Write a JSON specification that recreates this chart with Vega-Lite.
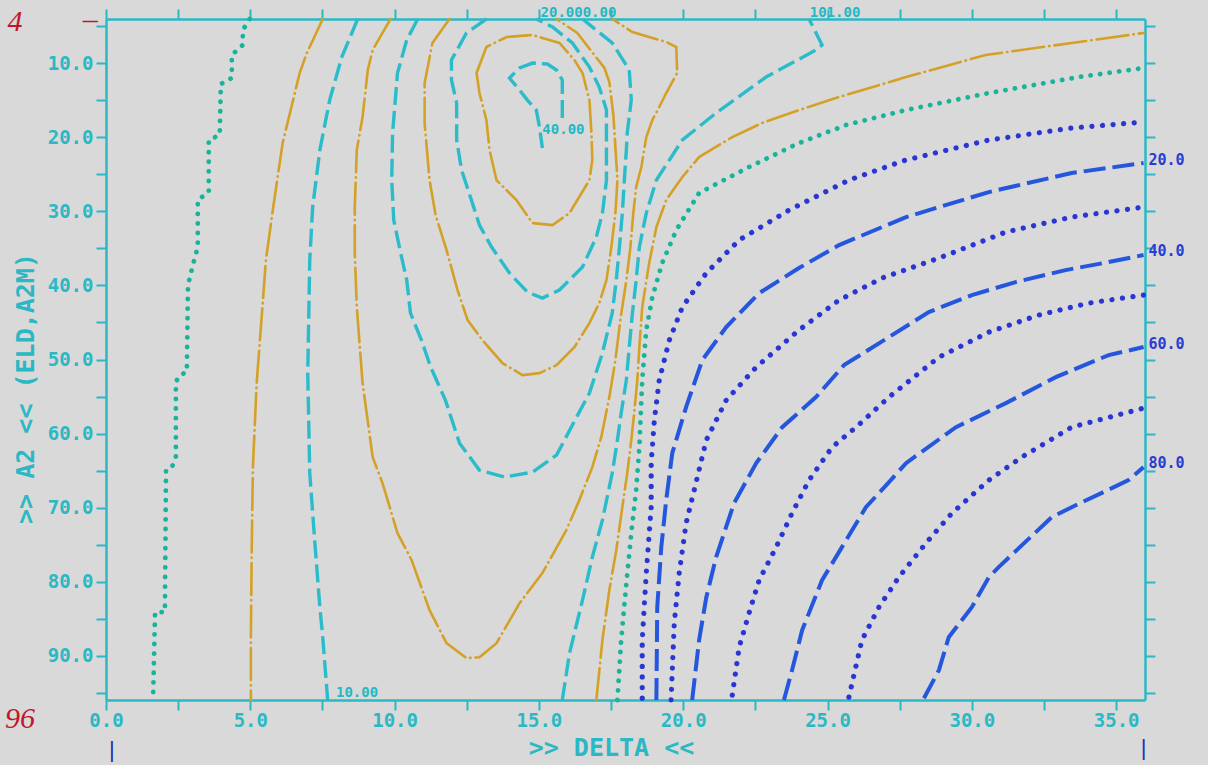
{
"$schema":"https://vega.github.io/schema/vega-lite/v6.json",
"width":1039,"height":681,
"autosize":{"type":"none"},
"padding":{"left":106,"top":19,"right":63,"bottom":65},
"background":"#d9d9d9",
"config":{"view":{"stroke":null},"axis":{"grid":false,"domainColor":"#2ab8c4","domainWidth":2.5,"tickColor":"#2ab8c4","tickWidth":2,"tickSize":10,"labelColor":"#2ab8c4","labelFont":"DejaVu Sans Mono","labelFontWeight":"bold","labelFontSize":19,"labelFlush":false,"labelOverlap":false,"titleColor":"#2ab8c4","titleFont":"DejaVu Sans Mono","titleFontWeight":"bold","titleFontSize":25}},
"datasets":{
"lines":[
{"c":"L1","x":4.98,"y":4.0},{"c":"L1","x":4.74,"y":5.49},{"c":"L1","x":4.74,"y":7.51},{"c":"L1","x":4.36,"y":8.86},{"c":"L1","x":4.36,"y":11.97},{"c":"L1","x":3.98,"y":12.78},{"c":"L1","x":3.94,"y":19.68},{"c":"L1","x":3.56,"y":20.35},{"c":"L1","x":3.56,"y":27.38},{"c":"L1","x":3.18,"y":28.46},{"c":"L1","x":3.18,"y":34.81},{"c":"L1","x":3.01,"y":37.24},{"c":"L1","x":2.84,"y":39.95},{"c":"L1","x":2.8,"y":51.7},{"c":"L1","x":2.56,"y":52.11},{"c":"L1","x":2.42,"y":53.05},{"c":"L1","x":2.42,"y":63.32},{"c":"L1","x":2.28,"y":64.54},{"c":"L1","x":2.08,"y":64.95},{"c":"L1","x":2.04,"y":84.14},{"c":"L1","x":1.7,"y":84.14},{"c":"L1","x":1.63,"y":96.0},
{"c":"G1","x":7.51,"y":4.0},{"c":"G1","x":6.96,"y":8.59},{"c":"G1","x":6.71,"y":11.3},{"c":"G1","x":6.12,"y":20.76},{"c":"G1","x":5.78,"y":29.81},{"c":"G1","x":5.54,"y":36.57},{"c":"G1","x":5.43,"y":42.38},{"c":"G1","x":5.22,"y":53.19},{"c":"G1","x":5.09,"y":64.54},{"c":"G1","x":5.05,"y":75.35},{"c":"G1","x":5.02,"y":87.51},{"c":"G1","x":5.02,"y":96.0},
{"c":"C1","x":8.72,"y":4.0},{"c":"C1","x":8.17,"y":9.14},{"c":"C1","x":7.75,"y":14.95},{"c":"C1","x":7.41,"y":21.7},{"c":"C1","x":7.16,"y":29.41},{"c":"C1","x":7.06,"y":36.57},{"c":"C1","x":6.99,"y":51.84},{"c":"C1","x":7.06,"y":65.35},{"c":"C1","x":7.23,"y":74.41},{"c":"C1","x":7.41,"y":83.46},{"c":"C1","x":7.51,"y":87.51},{"c":"C1","x":7.68,"y":96.0},
{"c":"G2","x":9.86,"y":4.0},{"c":"G2","x":9.24,"y":8.19},{"c":"G2","x":9.07,"y":10.89},{"c":"G2","x":8.89,"y":17.24},{"c":"G2","x":8.69,"y":21.7},{"c":"G2","x":8.62,"y":29.41},{"c":"G2","x":8.62,"y":35.62},{"c":"G2","x":8.69,"y":42.92},{"c":"G2","x":8.89,"y":53.19},{"c":"G2","x":9.24,"y":63.19},{"c":"G2","x":9.58,"y":66.7},{"c":"G2","x":10.1,"y":73.46},{"c":"G2","x":10.59,"y":77.11},{"c":"G2","x":11.21,"y":83.86},{"c":"G2","x":11.8,"y":88.32},{"c":"G2","x":12.49,"y":90.35},{"c":"G2","x":12.94,"y":90.22},{"c":"G2","x":13.53,"y":88.32},{"c":"G2","x":14.33,"y":82.92},{"c":"G2","x":15.12,"y":78.86},{"c":"G2","x":15.95,"y":73.05},{"c":"G2","x":16.4,"y":69.0},{"c":"G2","x":16.85,"y":64.54},{"c":"G2","x":17.16,"y":60.49},{"c":"G2","x":17.44,"y":55.08},{"c":"G2","x":17.65,"y":50.08},{"c":"G2","x":17.82,"y":44.68},{"c":"G2","x":18.03,"y":39.27},{"c":"G2","x":18.17,"y":34.81},{"c":"G2","x":18.27,"y":30.22},{"c":"G2","x":18.37,"y":26.7},{"c":"G2","x":18.55,"y":24.0},{"c":"G2","x":18.72,"y":19.95},{"c":"G2","x":18.93,"y":17.65},{"c":"G2","x":19.17,"y":15.89},{"c":"G2","x":19.41,"y":14.0},{"c":"G2","x":19.79,"y":11.3},{"c":"G2","x":19.76,"y":7.78},{"c":"G2","x":19.41,"y":7.11},{"c":"G2","x":18.24,"y":5.76},{"c":"G2","x":17.54,"y":4.0},
{"c":"C2","x":10.8,"y":4.0},{"c":"C2","x":10.42,"y":6.84},{"c":"C2","x":10.1,"y":11.3},{"c":"C2","x":9.93,"y":19.41},{"c":"C2","x":9.9,"y":25.76},{"c":"C2","x":9.97,"y":31.16},{"c":"C2","x":10.21,"y":35.62},{"c":"C2","x":10.42,"y":39.27},{"c":"C2","x":10.55,"y":43.73},{"c":"C2","x":10.93,"y":47.38},{"c":"C2","x":11.25,"y":51.03},{"c":"C2","x":11.76,"y":55.49},{"c":"C2","x":12.25,"y":61.3},{"c":"C2","x":12.94,"y":64.95},{"c":"C2","x":13.81,"y":65.89},{"c":"C2","x":14.78,"y":65.22},{"c":"C2","x":15.61,"y":62.92},{"c":"C2","x":16.16,"y":58.86},{"c":"C2","x":16.75,"y":54.54},{"c":"C2","x":17.2,"y":49.14},{"c":"C2","x":17.54,"y":43.73},{"c":"C2","x":17.68,"y":39.27},{"c":"C2","x":17.79,"y":34.81},{"c":"C2","x":17.89,"y":30.22},{"c":"C2","x":17.96,"y":25.76},{"c":"C2","x":18.03,"y":21.7},{"c":"C2","x":18.06,"y":19.41},{"c":"C2","x":18.2,"y":14.95},{"c":"C2","x":18.13,"y":10.89},{"c":"C2","x":17.54,"y":7.24},{"c":"C2","x":16.51,"y":4.0},
{"c":"G3","x":11.9,"y":4.0},{"c":"G3","x":11.31,"y":7.24},{"c":"G3","x":11.04,"y":12.65},{"c":"G3","x":11.04,"y":18.05},{"c":"G3","x":11.21,"y":25.76},{"c":"G3","x":11.42,"y":30.49},{"c":"G3","x":11.8,"y":35.22},{"c":"G3","x":12.18,"y":40.62},{"c":"G3","x":12.53,"y":44.68},{"c":"G3","x":13.04,"y":47.38},{"c":"G3","x":13.74,"y":50.49},{"c":"G3","x":14.43,"y":52.11},{"c":"G3","x":15.02,"y":51.84},{"c":"G3","x":15.61,"y":50.76},{"c":"G3","x":16.23,"y":48.32},{"c":"G3","x":16.75,"y":45.08},{"c":"G3","x":17.09,"y":42.38},{"c":"G3","x":17.34,"y":39.27},{"c":"G3","x":17.51,"y":34.81},{"c":"G3","x":17.65,"y":30.22},{"c":"G3","x":17.72,"y":25.76},{"c":"G3","x":17.65,"y":21.3},{"c":"G3","x":17.58,"y":16.97},{"c":"G3","x":17.44,"y":12.51},{"c":"G3","x":17.27,"y":10.62},{"c":"G3","x":16.33,"y":5.89},{"c":"G3","x":15.61,"y":4.0},
{"c":"C3","x":13.18,"y":4.0},{"c":"C3","x":12.49,"y":5.89},{"c":"C3","x":11.97,"y":9.54},{"c":"C3","x":11.97,"y":12.24},{"c":"C3","x":12.15,"y":15.35},{"c":"C3","x":12.15,"y":20.35},{"c":"C3","x":12.32,"y":24.41},{"c":"C3","x":12.66,"y":28.46},{"c":"C3","x":12.94,"y":31.84},{"c":"C3","x":13.36,"y":34.81},{"c":"C3","x":13.98,"y":38.32},{"c":"C3","x":14.6,"y":40.89},{"c":"C3","x":15.12,"y":41.7},{"c":"C3","x":15.71,"y":40.62},{"c":"C3","x":16.51,"y":37.51},{"c":"C3","x":16.99,"y":33.46},{"c":"C3","x":17.2,"y":30.22},{"c":"C3","x":17.34,"y":25.76},{"c":"C3","x":17.34,"y":20.35},{"c":"C3","x":17.34,"y":16.3},{"c":"C3","x":17.09,"y":13.19},{"c":"C3","x":16.75,"y":10.49},{"c":"C3","x":16.16,"y":7.24},{"c":"C3","x":15.47,"y":5.08},{"c":"C3","x":14.91,"y":4.0},
{"c":"G4","x":12.84,"y":11.3},{"c":"G4","x":13.18,"y":7.78},{"c":"G4","x":13.88,"y":6.43},{"c":"G4","x":14.78,"y":6.16},{"c":"G4","x":15.71,"y":7.24},{"c":"G4","x":16.23,"y":9.54},{"c":"G4","x":16.51,"y":11.3},{"c":"G4","x":16.75,"y":14.95},{"c":"G4","x":16.82,"y":19.41},{"c":"G4","x":16.85,"y":23.05},{"c":"G4","x":16.75,"y":25.76},{"c":"G4","x":16.06,"y":30.22},{"c":"G4","x":15.47,"y":31.84},{"c":"G4","x":14.78,"y":31.57},{"c":"G4","x":14.22,"y":28.46},{"c":"G4","x":13.53,"y":25.76},{"c":"G4","x":13.29,"y":21.7},{"c":"G4","x":13.18,"y":17.65},{"c":"G4","x":12.94,"y":14.0},{"c":"G4","x":12.84,"y":11.3},
{"c":"C4","x":15.81,"y":17.38},{"c":"C4","x":15.81,"y":14.95},{"c":"C4","x":15.81,"y":12.24},{"c":"C4","x":15.61,"y":10.89},{"c":"C4","x":15.29,"y":10.08},{"c":"C4","x":14.78,"y":9.95},{"c":"C4","x":14.33,"y":10.62},{"c":"C4","x":13.98,"y":11.97},{"c":"C4","x":14.33,"y":13.59},{"c":"C4","x":14.6,"y":14.95},{"c":"C4","x":14.91,"y":16.3},{"c":"C4","x":15.02,"y":18.59},{"c":"C4","x":15.12,"y":21.43},
{"c":"C5","x":15.81,"y":96.0},{"c":"C5","x":16.06,"y":89.68},{"c":"C5","x":16.51,"y":82.51},{"c":"C5","x":16.85,"y":76.7},{"c":"C5","x":17.2,"y":71.7},{"c":"C5","x":17.54,"y":65.35},{"c":"C5","x":17.72,"y":60.89},{"c":"C5","x":17.85,"y":57.24},{"c":"C5","x":18.03,"y":52.78},{"c":"C5","x":18.13,"y":48.32},{"c":"C5","x":18.24,"y":43.73},{"c":"C5","x":18.37,"y":39.27},{"c":"C5","x":18.48,"y":34.81},{"c":"C5","x":18.72,"y":30.22},{"c":"C5","x":19.07,"y":25.76},{"c":"C5","x":19.97,"y":20.35},{"c":"C5","x":21.14,"y":16.7},{"c":"C5","x":22.87,"y":11.84},{"c":"C5","x":24.6,"y":8.19},{"c":"C5","x":24.81,"y":7.51},{"c":"C5","x":24.36,"y":4.0},
{"c":"G5","x":16.99,"y":96.0},{"c":"G5","x":17.2,"y":87.92},{"c":"G5","x":17.44,"y":81.16},{"c":"G5","x":17.68,"y":75.76},{"c":"G5","x":17.89,"y":69.95},{"c":"G5","x":18.06,"y":65.35},{"c":"G5","x":18.2,"y":60.89},{"c":"G5","x":18.3,"y":57.24},{"c":"G5","x":18.41,"y":52.78},{"c":"G5","x":18.48,"y":48.32},{"c":"G5","x":18.58,"y":42.92},{"c":"G5","x":18.82,"y":36.97},{"c":"G5","x":19.07,"y":32.11},{"c":"G5","x":19.41,"y":28.46},{"c":"G5","x":19.97,"y":25.35},{"c":"G5","x":20.55,"y":22.65},{"c":"G5","x":21.7,"y":19.95},{"c":"G5","x":22.73,"y":18.05},{"c":"G5","x":24.01,"y":16.3},{"c":"G5","x":25.4,"y":14.54},{"c":"G5","x":27.72,"y":11.84},{"c":"G5","x":30.48,"y":8.86},{"c":"G5","x":33.46,"y":7.24},{"c":"G5","x":35.95,"y":5.89},
{"c":"T2","x":17.72,"y":96.0},{"c":"T2","x":17.85,"y":87.92},{"c":"T2","x":18.03,"y":80.22},{"c":"T2","x":18.2,"y":73.46},{"c":"T2","x":18.37,"y":67.65},{"c":"T2","x":18.48,"y":61.84},{"c":"T2","x":18.58,"y":52.78},{"c":"T2","x":18.72,"y":46.03},{"c":"T2","x":18.93,"y":41.57},{"c":"T2","x":19.27,"y":36.97},{"c":"T2","x":19.76,"y":32.51},{"c":"T2","x":20.55,"y":27.51},{"c":"T2","x":22.28,"y":24.0},{"c":"T2","x":24.01,"y":20.76},{"c":"T2","x":25.64,"y":18.32},{"c":"T2","x":27.72,"y":16.3},{"c":"T2","x":30.59,"y":14.0},{"c":"T2","x":33.7,"y":11.84},{"c":"T2","x":35.95,"y":10.62},
{"c":"B1","x":18.58,"y":95.76},{"c":"B1","x":18.58,"y":87.92},{"c":"B1","x":18.72,"y":78.86},{"c":"B1","x":18.89,"y":69.95},{"c":"B1","x":18.89,"y":64.0},{"c":"B1","x":19.0,"y":58.19},{"c":"B1","x":19.17,"y":52.78},{"c":"B1","x":19.52,"y":47.38},{"c":"B1","x":19.97,"y":42.92},{"c":"B1","x":20.8,"y":38.32},{"c":"B1","x":21.94,"y":33.86},{"c":"B1","x":23.67,"y":29.81},{"c":"B1","x":25.74,"y":25.76},{"c":"B1","x":27.72,"y":23.05},{"c":"B1","x":30.59,"y":20.35},{"c":"B1","x":33.46,"y":18.73},{"c":"B1","x":35.95,"y":17.92},
{"c":"D1","x":19.07,"y":96.0},{"c":"D1","x":19.1,"y":83.46},{"c":"D1","x":19.24,"y":75.35},{"c":"D1","x":19.41,"y":69.0},{"c":"D1","x":19.62,"y":62.65},{"c":"D1","x":20.1,"y":56.43},{"c":"D1","x":20.66,"y":50.08},{"c":"D1","x":21.49,"y":45.62},{"c":"D1","x":22.63,"y":41.03},{"c":"D1","x":24.01,"y":37.65},{"c":"D1","x":25.4,"y":34.54},{"c":"D1","x":27.72,"y":30.76},{"c":"D1","x":30.59,"y":27.38},{"c":"D1","x":33.46,"y":24.81},{"c":"D1","x":35.95,"y":23.46},
{"c":"B2","x":19.58,"y":96.0},{"c":"B2","x":19.69,"y":85.62},{"c":"B2","x":19.86,"y":78.86},{"c":"B2","x":20.1,"y":72.11},{"c":"B2","x":20.38,"y":67.65},{"c":"B2","x":20.8,"y":60.89},{"c":"B2","x":21.49,"y":55.49},{"c":"B2","x":22.53,"y":51.03},{"c":"B2","x":24.01,"y":46.03},{"c":"B2","x":25.4,"y":41.97},{"c":"B2","x":26.89,"y":39.0},{"c":"B2","x":28.86,"y":36.3},{"c":"B2","x":31.18,"y":32.78},{"c":"B2","x":33.46,"y":30.76},{"c":"B2","x":35.95,"y":29.41},
{"c":"D2","x":20.31,"y":96.0},{"c":"D2","x":20.55,"y":87.92},{"c":"D2","x":20.8,"y":82.11},{"c":"D2","x":21.14,"y":76.7},{"c":"D2","x":21.76,"y":69.41},{"c":"D2","x":22.53,"y":64.0},{"c":"D2","x":23.43,"y":59.14},{"c":"D2","x":24.6,"y":55.08},{"c":"D2","x":25.57,"y":50.76},{"c":"D2","x":27.13,"y":46.97},{"c":"D2","x":28.51,"y":43.59},{"c":"D2","x":30.0,"y":41.3},{"c":"D2","x":31.52,"y":39.54},{"c":"D2","x":33.25,"y":37.92},{"c":"D2","x":34.74,"y":36.84},{"c":"D2","x":35.95,"y":35.89},
{"c":"B3","x":21.7,"y":95.35},{"c":"B3","x":21.94,"y":88.86},{"c":"B3","x":22.28,"y":84.27},{"c":"B3","x":22.63,"y":79.81},{"c":"B3","x":23.22,"y":75.35},{"c":"B3","x":23.77,"y":70.76},{"c":"B3","x":24.36,"y":66.3},{"c":"B3","x":25.16,"y":61.84},{"c":"B3","x":25.99,"y":59.14},{"c":"B3","x":27.13,"y":55.08},{"c":"B3","x":28.86,"y":49.68},{"c":"B3","x":30.59,"y":46.3},{"c":"B3","x":32.32,"y":44.0},{"c":"B3","x":34.05,"y":42.38},{"c":"B3","x":35.95,"y":41.3},
{"c":"D3","x":23.49,"y":96.0},{"c":"D3","x":23.77,"y":91.97},{"c":"D3","x":24.12,"y":86.57},{"c":"D3","x":24.81,"y":79.81},{"c":"D3","x":25.5,"y":75.35},{"c":"D3","x":26.33,"y":69.95},{"c":"D3","x":27.13,"y":66.57},{"c":"D3","x":27.72,"y":64.0},{"c":"D3","x":29.45,"y":59.14},{"c":"D3","x":31.18,"y":55.89},{"c":"D3","x":32.91,"y":52.38},{"c":"D3","x":34.74,"y":49.41},{"c":"D3","x":35.95,"y":48.32},
{"c":"B4","x":25.74,"y":95.62},{"c":"B4","x":26.19,"y":87.92},{"c":"B4","x":26.78,"y":83.46},{"c":"B4","x":27.47,"y":79.41},{"c":"B4","x":28.41,"y":74.81},{"c":"B4","x":29.31,"y":70.76},{"c":"B4","x":30.59,"y":66.3},{"c":"B4","x":31.73,"y":63.19},{"c":"B4","x":33.46,"y":59.14},{"c":"B4","x":35.95,"y":56.57},
{"c":"D4","x":28.34,"y":95.76},{"c":"D4","x":28.86,"y":91.97},{"c":"D4","x":29.2,"y":87.51},{"c":"D4","x":30.0,"y":83.46},{"c":"D4","x":30.59,"y":79.41},{"c":"D4","x":30.93,"y":78.05},{"c":"D4","x":32.77,"y":71.3},{"c":"D4","x":33.46,"y":69.95},{"c":"D4","x":35.43,"y":66.3},{"c":"D4","x":35.95,"y":64.54}
],
"labels":[
{"k":"cyan","t":"10.00","x":8.7,"y":95.0},
{"k":"cyan","t":"40.00","x":15.85,"y":19.0},
{"k":"cyan","t":"20.000.00","x":16.37,"y":3.2},
{"k":"cyan","t":"101.00","x":25.26,"y":3.2},
{"k":"blue","t":"20.0","x":36.12,"y":23.05},
{"k":"blue","t":"40.0","x":36.12,"y":35.35},
{"k":"blue","t":"60.0","x":36.12,"y":47.92},
{"k":"blue","t":"80.0","x":36.12,"y":64.0},
{"k":"red","t":"4","x":-3.15,"y":4.4},
{"k":"red","t":"–","x":-0.55,"y":4.1},
{"k":"red","t":"96","x":-2.98,"y":98.5},
{"k":"pen","t":"|","x":0.2,"y":102.8},
{"k":"pen","t":"|","x":35.95,"y":102.5}
]
},
"resolve":{"axis":{"x":"independent","y":"independent"}},
"layer":[
{"data":{"name":"lines"},"transform":[{"filter":{"field":"c","oneOf":["L1","T2"]}}],
 "mark":{"type":"line","color":"#17b39b","strokeWidth":4.8,"strokeCap":"round","strokeDash":[0.1,9.5]},
 "encoding":{
  "x":{"field":"x","type":"quantitative","scale":{"domain":[0,36],"nice":false,"zero":false},
   "axis":{"orient":"bottom","values":[0,2.5,5,7.5,10,12.5,15,17.5,20,22.5,25,27.5,30,32.5,35],"labelExpr":"datum.value % 5 == 0 ? format(datum.value, '.1f') : ''","labelPadding":1,"title":">> DELTA <<","titleX":505,"titleY":47,"titleBaseline":"middle","titleAlign":"center"}},
  "y":{"field":"y","type":"quantitative","scale":{"domain":[4,96],"reverse":true,"nice":false,"zero":false},
   "axis":{"orient":"left","values":[5,10,15,20,25,30,35,40,45,50,55,60,65,70,75,80,85,90,95],"labelExpr":"datum.value % 10 == 0 ? format(datum.value, '.1f') : ''","labelPadding":3,"title":">> A2 << (ELD,A2M)","titleX":-81,"titleY":369,"titleAngle":270,"titleAlign":"center","titleBaseline":"middle"}},
  "detail":{"field":"c"},"order":{"value":null}}},
{"data":{"name":"lines"},"transform":[{"filter":{"field":"c","oneOf":["G1","G2","G3","G4","G5"]}}],
 "mark":{"type":"line","color":"#d4a126","strokeWidth":2.6,"strokeCap":"round","strokeDash":[32,5,0.5,5]},
 "encoding":{
  "x":{"field":"x","type":"quantitative","scale":{"domain":[0,36],"nice":false,"zero":false},
   "axis":{"orient":"top","values":[0,2.5,5,7.5,10,12.5,15,17.5,20,22.5,25,27.5,30,32.5,35],"labels":false,"title":null}},
  "y":{"field":"y","type":"quantitative","scale":{"domain":[4,96],"reverse":true,"nice":false,"zero":false},
   "axis":{"orient":"right","values":[5,10,15,20,25,30,35,40,45,50,55,60,65,70,75,80,85,90,95],"labels":false,"title":null}},
  "detail":{"field":"c"},"order":{"value":null}}},
{"data":{"name":"lines"},"transform":[{"filter":{"field":"c","oneOf":["C1","C2","C3","C4","C5"]}}],
 "mark":{"type":"line","color":"#2bbccb","strokeWidth":3.4,"strokeCap":"butt","strokeDash":[18,6]},
 "encoding":{
  "x":{"field":"x","type":"quantitative","scale":{"domain":[0,36],"nice":false,"zero":false},"axis":null},
  "y":{"field":"y","type":"quantitative","scale":{"domain":[4,96],"reverse":true,"nice":false,"zero":false},"axis":null},
  "detail":{"field":"c"},"order":{"value":null}}},
{"data":{"name":"lines"},"transform":[{"filter":{"field":"c","oneOf":["B1","B2","B3","B4"]}}],
 "mark":{"type":"line","color":"#2a36d4","strokeWidth":5.2,"strokeCap":"round","strokeDash":[0.1,10.5]},
 "encoding":{
  "x":{"field":"x","type":"quantitative","scale":{"domain":[0,36],"nice":false,"zero":false},"axis":null},
  "y":{"field":"y","type":"quantitative","scale":{"domain":[4,96],"reverse":true,"nice":false,"zero":false},"axis":null},
  "detail":{"field":"c"},"order":{"value":null}}},
{"data":{"name":"lines"},"transform":[{"filter":{"field":"c","oneOf":["D1","D2","D3","D4"]}}],
 "mark":{"type":"line","color":"#2456de","strokeWidth":4,"strokeCap":"butt","strokeDash":[22,7]},
 "encoding":{
  "x":{"field":"x","type":"quantitative","scale":{"domain":[0,36],"nice":false,"zero":false},"axis":null},
  "y":{"field":"y","type":"quantitative","scale":{"domain":[4,96],"reverse":true,"nice":false,"zero":false},"axis":null},
  "detail":{"field":"c"},"order":{"value":null}}},
{"data":{"name":"labels"},"transform":[{"filter":"datum.k == 'cyan'"}],
 "mark":{"type":"text","color":"#22b8c4","font":"DejaVu Sans Mono","fontWeight":"bold","fontSize":14,"align":"center","baseline":"middle"},
 "encoding":{
  "x":{"field":"x","type":"quantitative","scale":{"domain":[0,36],"nice":false,"zero":false},"axis":null},
  "y":{"field":"y","type":"quantitative","scale":{"domain":[4,96],"reverse":true,"nice":false,"zero":false},"axis":null},
  "text":{"field":"t"}}},
{"data":{"name":"labels"},"transform":[{"filter":"datum.k == 'blue'"}],
 "mark":{"type":"text","color":"#2a3ccf","font":"DejaVu Sans Mono","fontWeight":"bold","fontSize":15,"align":"left","baseline":"middle"},
 "encoding":{
  "x":{"field":"x","type":"quantitative","scale":{"domain":[0,36],"nice":false,"zero":false},"axis":null},
  "y":{"field":"y","type":"quantitative","scale":{"domain":[4,96],"reverse":true,"nice":false,"zero":false},"axis":null},
  "text":{"field":"t"}}},
{"data":{"name":"labels"},"transform":[{"filter":"datum.k == 'red'"}],
 "mark":{"type":"text","color":"#c0182a","font":"Liberation Serif","fontStyle":"italic","fontSize":30,"align":"center","baseline":"middle"},
 "encoding":{
  "x":{"field":"x","type":"quantitative","scale":{"domain":[0,36],"nice":false,"zero":false},"axis":null},
  "y":{"field":"y","type":"quantitative","scale":{"domain":[4,96],"reverse":true,"nice":false,"zero":false},"axis":null},
  "text":{"field":"t"}}},
{"data":{"name":"labels"},"transform":[{"filter":"datum.k == 'pen'"}],
 "mark":{"type":"text","color":"#2030c0","font":"Liberation Sans","fontSize":22,"align":"center","baseline":"middle"},
 "encoding":{
  "x":{"field":"x","type":"quantitative","scale":{"domain":[0,36],"nice":false,"zero":false},"axis":null},
  "y":{"field":"y","type":"quantitative","scale":{"domain":[4,96],"reverse":true,"nice":false,"zero":false},"axis":null},
  "text":{"field":"t"}}}
]
}
